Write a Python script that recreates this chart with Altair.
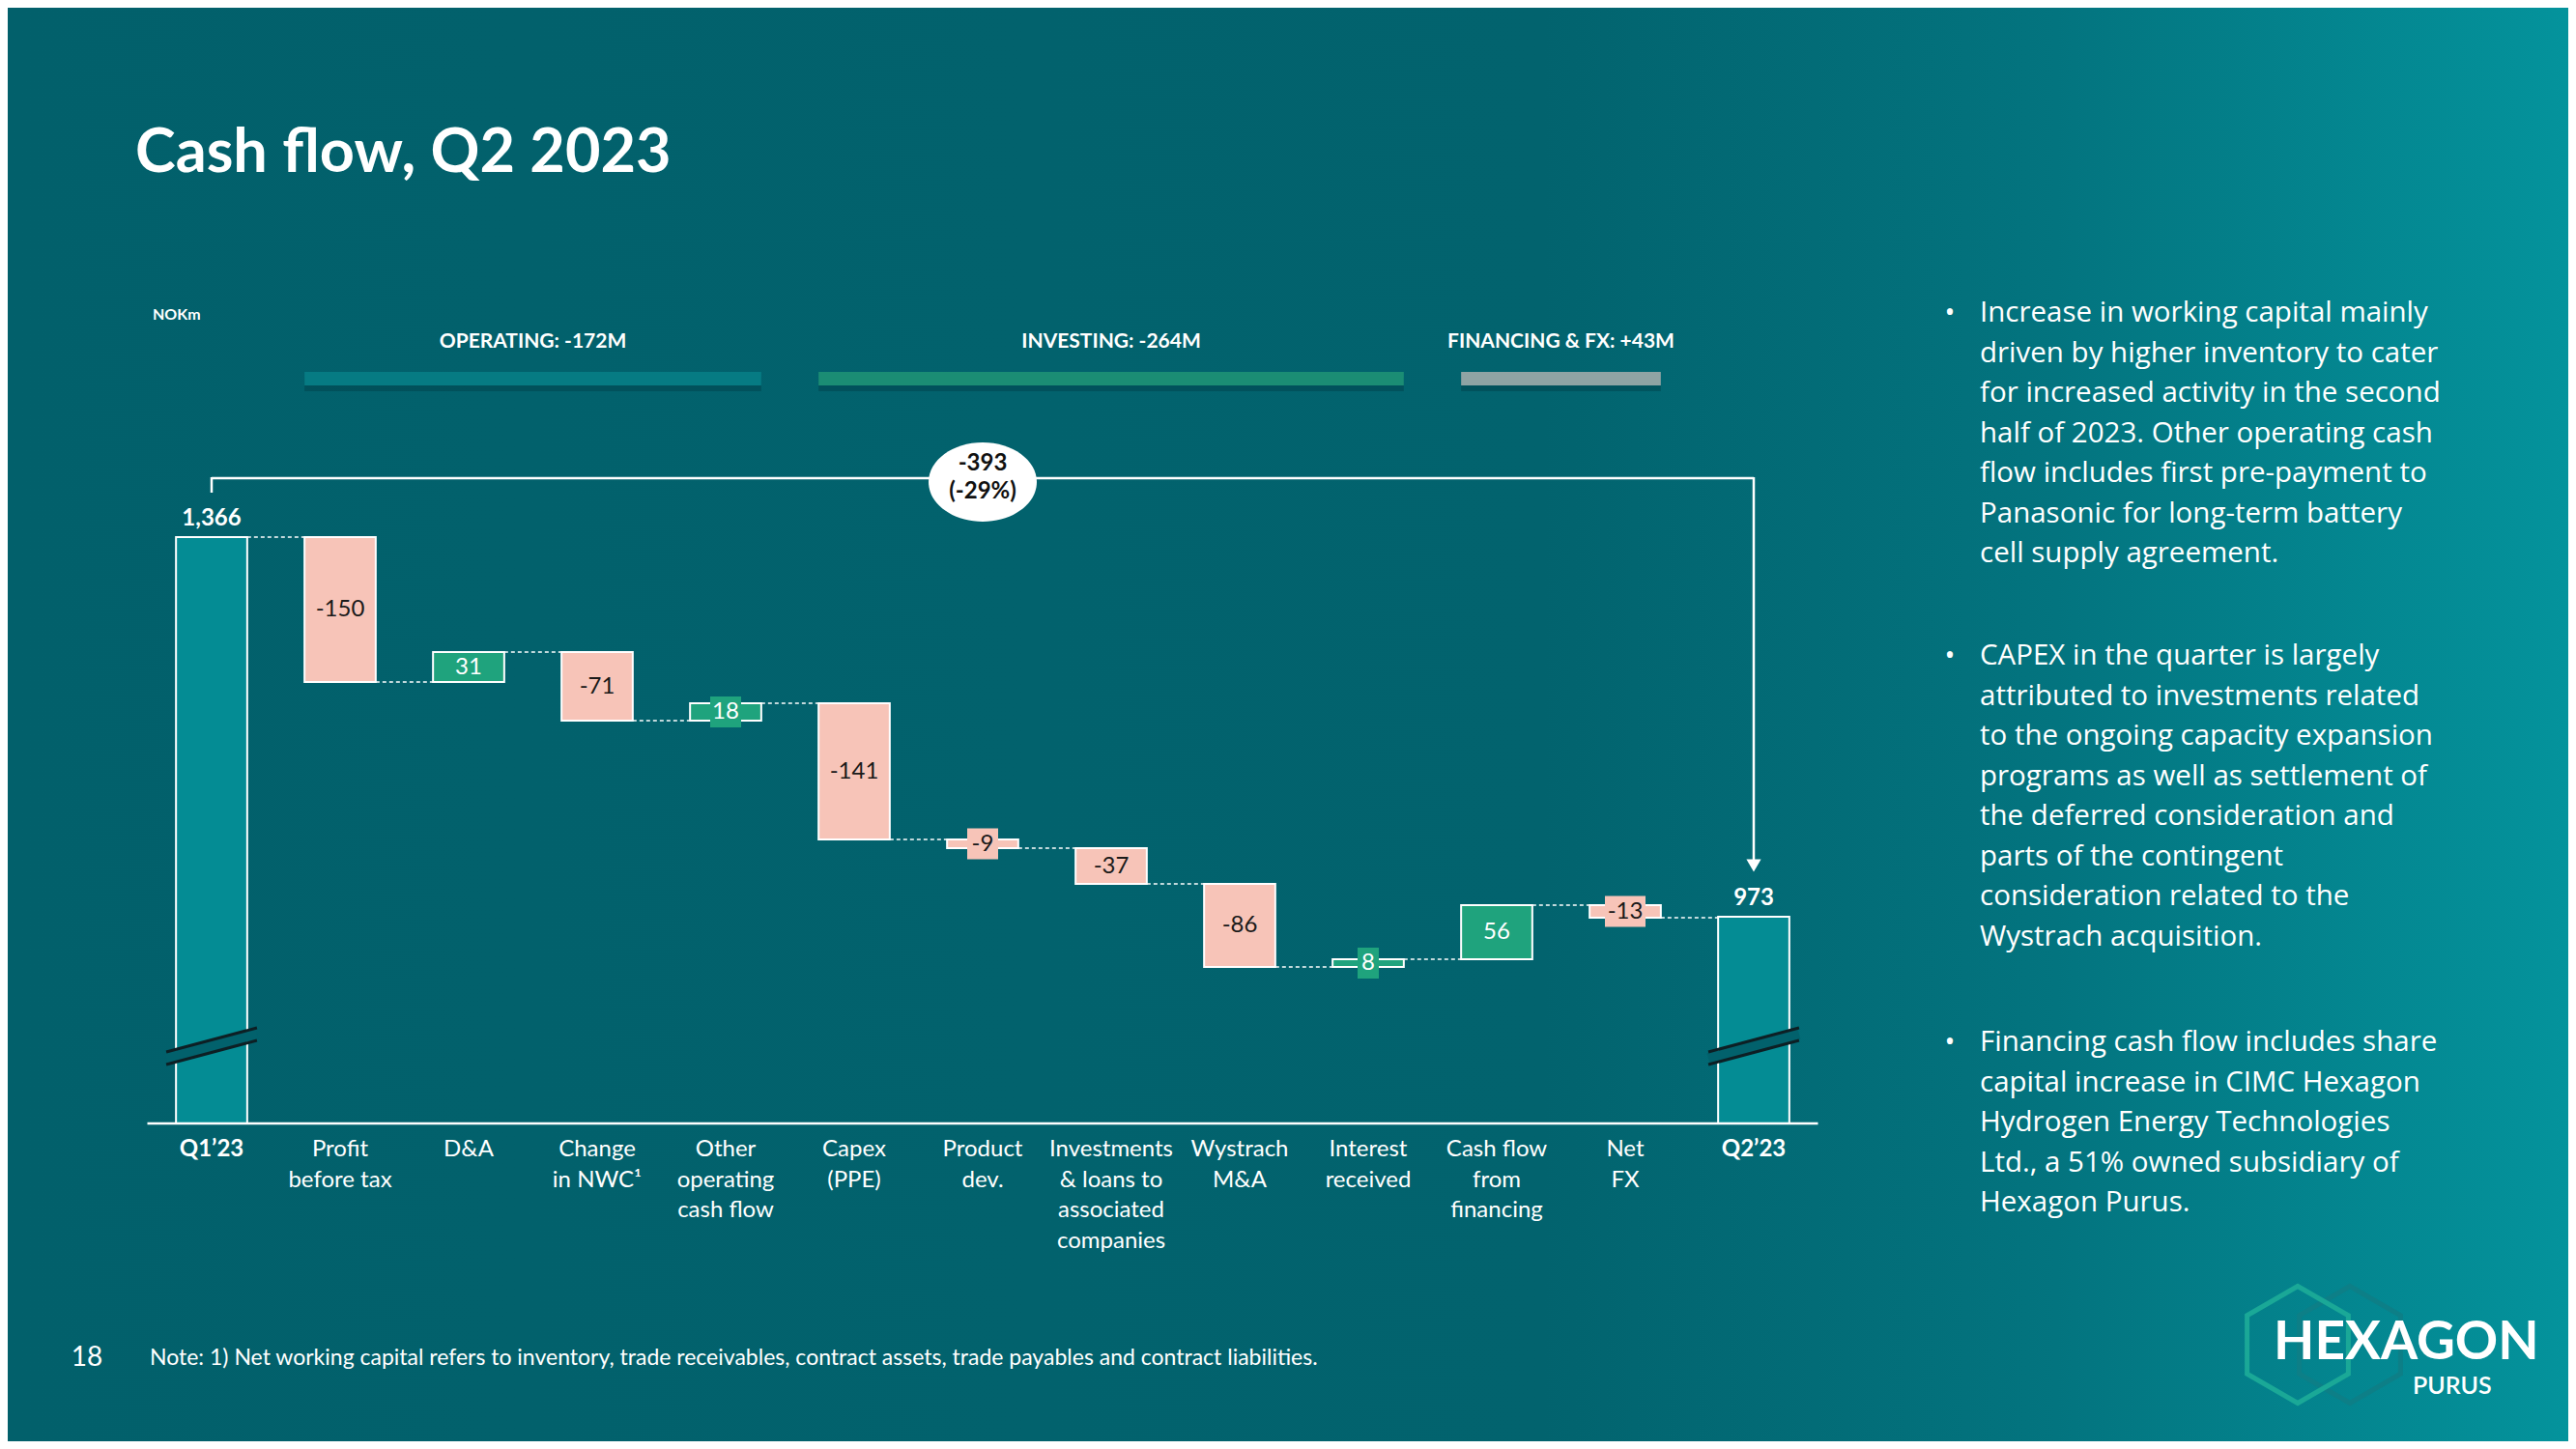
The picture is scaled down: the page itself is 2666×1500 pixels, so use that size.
import altair as alt
import pandas as pd

# ---------------- data ----------------
categories = ["Q1\u201923", "Profit\nbefore tax", "D&A", "Change\nin NWC\u00b9",
              "Other\noperating\ncash flow", "Capex\n(PPE)", "Product\ndev.",
              "Investments\n& loans to\nassociated\ncompanies", "Wystrach\nM&A",
              "Interest\nreceived", "Cash flow\nfrom\nfinancing", "Net\nFX", "Q2\u201923"]
start_value = 1366
end_value = 973
deltas = [-150, 31, -71, 18, -141, -9, -37, -86, 8, 56, -13]
axis_floor = 759          # value shown at the (broken) baseline
break_value = 839         # level of the axis-break marks on the total bars
sections = ["OPERATING: -172M", "INVESTING: -264M", "FINANCING & FX: +43M"]
section_first = [1, 5, 10]
section_last = [4, 9, 11]
section_colors = ["#067b83", "#1b8d74", "#8fa4a4"]
change_text = ["-393", "(-29%)"]
bullets = [
    "Increase in working capital mainly\ndriven by higher inventory to cater\nfor increased activity in the second\nhalf of 2023. Other operating cash\nflow includes first pre-payment to\nPanasonic for long-term battery\ncell supply agreement.",
    "CAPEX in the quarter is largely\nattributed to investments related\nto the ongoing capacity expansion\nprograms as well as settlement of\nthe deferred consideration and\nparts of the contingent\nconsideration related to the\nWystrach acquisition.",
    "Financing cash flow includes share\ncapital increase in CIMC Hexagon\nHydrogen Energy Technologies\nLtd., a 51% owned subsidiary of\nHexagon Purus.",
]
note = "Note: 1) Net working capital refers to inventory, trade receivables, contract assets, trade payables and contract liabilities."
page_no = "18"
title = "Cash flow, Q2 2023"
unit = "NOKm"

# ---------------- layout / style ----------------
W, H = 2650, 1484
FONT = "Lato"
BODY = "Open Sans"
BG = "#02616c"
HW = 0.277                       # half bar width (in category units)
X_RANGE = [144.5, 1873.5]
STEP = (X_RANGE[1] - X_RANGE[0]) / 13.0
xs = alt.Scale(domain=[-0.5, 12.5], range=X_RANGE, nice=False, zero=False)
ys = alt.Scale(domain=[axis_floor, start_value], range=[1155, 548], nice=False, zero=False)
kind_scale = alt.Scale(domain=["total", "neg", "pos"], range=["#048c94", "#f7c4b8", "#1fa37d"])

# ---------------- build tables ----------------
bars, conns = [], []
bars.append(dict(i=0, x=0 - HW, x2=0 + HW, lo=axis_floor, hi=start_value, kind="total",
                 txt=f"{start_value:,}", mid=None, lab=categories[0]))
level = start_value
for k, d in enumerate(deltas):
    new = level + d
    conns.append(dict(x=k + HW, x2=k + 1 - HW, y=level))
    bars.append(dict(i=k + 1, x=k + 1 - HW, x2=k + 1 + HW, lo=min(level, new), hi=max(level, new),
                     kind="pos" if d > 0 else "neg", txt=str(d), mid=(level + new) / 2,
                     lab=categories[k + 1]))
    level = new
conns.append(dict(x=11 + HW, x2=12 - HW, y=level))
bars.append(dict(i=12, x=12 - HW, x2=12 + HW, lo=axis_floor, hi=end_value, kind="total",
                 txt=f"{end_value:,}", mid=None, lab=categories[12]))
df = pd.DataFrame(bars)
conn_df = pd.DataFrame(conns)

deltas_df = df[df.kind != "total"].copy()
deltas_df["small"] = (deltas_df.hi - deltas_df.lo) < 20
deltas_df["bw"] = deltas_df.txt.str.len() * 10 + 12
deltas_df["bx"] = deltas_df.i - deltas_df.bw / 2 / STEP
deltas_df["bx2"] = deltas_df.i + deltas_df.bw / 2 / STEP
small_df = deltas_df[deltas_df.small]
neg_lab = deltas_df[deltas_df.kind == "neg"]
pos_lab = deltas_df[deltas_df.kind == "pos"]
tot_df = df[df.kind == "total"]
cat_df = df[df.kind != "total"]

sec_df = pd.DataFrame(dict(name=sections, first=section_first, last=section_last, color=section_colors))
sec_df["x"] = sec_df["first"] - HW
sec_df["x2"] = sec_df["last"] + HW
sec_df["xc"] = (sec_df["x"] + sec_df["x2"]) / 2

brk_df = pd.DataFrame(dict(i=[0, 12]))
brk_df["x"] = brk_df.i - 0.353
brk_df["x2"] = brk_df.i + 0.353
brk_df["y"] = break_value - 12.5
brk_df["y2"] = break_value + 12.5

one = pd.DataFrame({"d": [0]})
X = lambda f: alt.X(f, type="quantitative", scale=xs, axis=None)
Y = lambda f: alt.Y(f, type="quantitative", scale=ys, axis=None)

layers = []

# background gradient
layers.append(alt.Chart(one).mark_rect(
    fill=alt.LinearGradient(gradient="linear", x1=0, x2=1, y1=0, y2=0,
                            stops=[alt.GradientStop(color="#02606b", offset=0),
                                   alt.GradientStop(color="#02636e", offset=0.6),
                                   alt.GradientStop(color="#03747f", offset=0.8),
                                   alt.GradientStop(color="#04939c", offset=1)])
).encode(x=alt.value(0), x2=alt.value(W), y=alt.value(0), y2=alt.value(H)))

# title and unit
layers.append(alt.Chart(pd.DataFrame({"t": [title]})).mark_text(
    font=FONT, fontWeight="bold", fontSize=63, color="white", align="left", baseline="alphabetic"
).encode(x=alt.value(132), y=alt.value(170), text="t:N"))
layers.append(alt.Chart(pd.DataFrame({"t": [unit]})).mark_text(
    font=FONT, fontWeight="bold", fontSize=16, color="white", align="left", baseline="middle"
).encode(x=alt.value(150), y=alt.value(318), text="t:N"))

# section headers (with a soft shadow under each bar)
layers.append(alt.Chart(sec_df).mark_rect(color="#00343b", opacity=0.35).encode(
    x=X("x"), x2="x2", y=alt.value(383), y2=alt.value(397)))
layers.append(alt.Chart(sec_df).mark_rect().encode(
    x=X("x"), x2="x2", y=alt.value(377), y2=alt.value(391),
    fill=alt.Fill("color:N", scale=None)))
layers.append(alt.Chart(sec_df).mark_text(
    font=FONT, fontWeight="bold", fontSize=21, color="white", baseline="middle"
).encode(x=X("xc"), y=alt.value(346), text="name:N"))

# bracket with arrow
br = pd.DataFrame(dict(x=[0.0], x2=[12.0]))
layers.append(alt.Chart(br).mark_rule(color="white", strokeWidth=2.5).encode(
    x=X("x"), x2="x2", y=alt.value(487)))
layers.append(alt.Chart(br).mark_rule(color="white", strokeWidth=2.5).encode(
    x=X("x"), y=alt.value(486), y2=alt.value(502)))
layers.append(alt.Chart(br).mark_rule(color="white", strokeWidth=2.5).encode(
    x=X("x2"), y=alt.value(486), y2=alt.value(884)))
layers.append(alt.Chart(br).mark_point(shape="triangle-down", filled=True, color="white",
                                       size=230, opacity=1).encode(
    x=X("x2"), y=alt.value(888)))
layers.append(alt.Chart(pd.DataFrame(dict(x=[6.0]))).mark_point(
    shape="M -1 0 A 1 0.732 0 1 1 1 0 A 1 0.732 0 1 1 -1 0 Z",
    filled=True, color="white", size=12544, opacity=1).encode(
    x=X("x"), y=alt.value(491)))
for t, yy in zip(change_text, [472, 501]):
    layers.append(alt.Chart(pd.DataFrame(dict(x=[6.0], t=[t]))).mark_text(
        font=FONT, fontWeight="bold", fontSize=24, color="#111111", baseline="middle"
    ).encode(x=X("x"), y=alt.value(yy), text="t:N"))

# connectors
layers.append(alt.Chart(conn_df).mark_rule(color="white", strokeWidth=1.5, strokeDash=[4, 3]).encode(
    x=X("x"), x2="x2", y=Y("y")))

# bars
layers.append(alt.Chart(df).mark_rect(stroke="white", strokeWidth=2).encode(
    x=X("x"), x2="x2", y=Y("lo"), y2="hi",
    fill=alt.Fill("kind:N", scale=kind_scale, legend=None)))

# axis-break marks
layers.append(alt.Chart(brk_df).mark_rule(color=BG, strokeWidth=11).encode(
    x=X("x"), x2="x2", y=Y("y"), y2="y2"))
for off in (-6.5, 6.5):
    layers.append(alt.Chart(brk_df).mark_rule(color="#0d1f24", strokeWidth=3,
                                              yOffset=off, y2Offset=off).encode(
        x=X("x"), x2="x2", y=Y("y"), y2="y2"))

# baseline
layers.append(alt.Chart(pd.DataFrame(dict(x=[-0.5], x2=[12.5], y=[axis_floor]))).mark_rule(
    color="white", strokeWidth=2.5).encode(x=X("x"), x2="x2", y=Y("y")))

# small label boxes
layers.append(alt.Chart(small_df).mark_rect(yOffset=-16, y2Offset=16).encode(
    x=X("bx"), x2="bx2", y=Y("mid"), y2="mid",
    fill=alt.Fill("kind:N", scale=kind_scale, legend=None)))

# value labels
layers.append(alt.Chart(neg_lab).mark_text(font=FONT, fontSize=24, color="#1a1a1a", baseline="middle").encode(
    x=X("i"), y=Y("mid"), text="txt:N"))
layers.append(alt.Chart(pos_lab).mark_text(font=FONT, fontSize=24, color="white", baseline="middle").encode(
    x=X("i"), y=Y("mid"), text="txt:N"))
layers.append(alt.Chart(tot_df).mark_text(font=FONT, fontWeight="bold", fontSize=24, color="white",
                                          baseline="alphabetic", dy=-12).encode(
    x=X("i"), y=Y("hi"), text="txt:N"))

# category labels
layers.append(alt.Chart(tot_df).mark_text(font=FONT, fontWeight="bold", fontSize=24, color="white",
                                          baseline="top", lineBreak="\n", lineHeight=31.6).encode(
    x=X("i"), y=alt.value(1170), text="lab:N"))
layers.append(alt.Chart(cat_df).mark_text(font=FONT, fontSize=24, color="white",
                                          baseline="top", lineBreak="\n", lineHeight=31.6).encode(
    x=X("i"), y=alt.value(1170), text="lab:N"))

# right-hand commentary
for txt, yy in zip(bullets, [302, 657, 1057]):
    layers.append(alt.Chart(pd.DataFrame({"t": ["\u2022"]})).mark_text(
        font=BODY, fontSize=29, color="white", align="center", baseline="top").encode(
        x=alt.value(2010), y=alt.value(yy), text="t:N"))
    layers.append(alt.Chart(pd.DataFrame({"t": [txt]})).mark_text(
        font=BODY, fontSize=29.5, color="white", align="left", baseline="top",
        lineBreak="\n", lineHeight=41.5).encode(
        x=alt.value(2041), y=alt.value(yy), text="t:N"))

# footer
layers.append(alt.Chart(pd.DataFrame({"t": [page_no]})).mark_text(
    font=FONT, fontSize=28, color="white", align="center", baseline="middle").encode(
    x=alt.value(82), y=alt.value(1398), text="t:N"))
layers.append(alt.Chart(pd.DataFrame({"t": [note]})).mark_text(
    font=FONT, fontSize=23, color="white", align="left", baseline="middle").encode(
    x=alt.value(147), y=alt.value(1398), text="t:N"))

# logo
hexpath = "M 0 -1 L 0.866 -0.5 L 0.866 0.5 L 0 1 L -0.866 0.5 L -0.866 -0.5 Z"
for xx, col in [(2424, "#0d7f87"), (2370, "#1aa897")]:
    layers.append(alt.Chart(one).mark_point(shape=hexpath, filled=False, stroke=col,
                                            strokeWidth=5, size=14641, opacity=1).encode(
        x=alt.value(xx), y=alt.value(1384)))
layers.append(alt.Chart(pd.DataFrame({"t": ["HEXAGON"]})).mark_text(
    font=FONT, fontWeight="bold", fontSize=55, color="white", align="left", baseline="alphabetic"
).encode(x=alt.value(2345), y=alt.value(1399), text="t:N"))
layers.append(alt.Chart(pd.DataFrame({"t": ["PURUS"]})).mark_text(
    font=FONT, fontWeight=600, fontSize=25, color="white", align="left", baseline="alphabetic"
).encode(x=alt.value(2489), y=alt.value(1435), text="t:N"))

chart = alt.layer(*layers).properties(
    width=W, height=H, padding=0, background=BG,
    autosize=alt.AutoSizeParams(type="none")
).configure_view(strokeWidth=0)

chart.save("out.html", embed_options={"renderer": "svg", "actions": False})
